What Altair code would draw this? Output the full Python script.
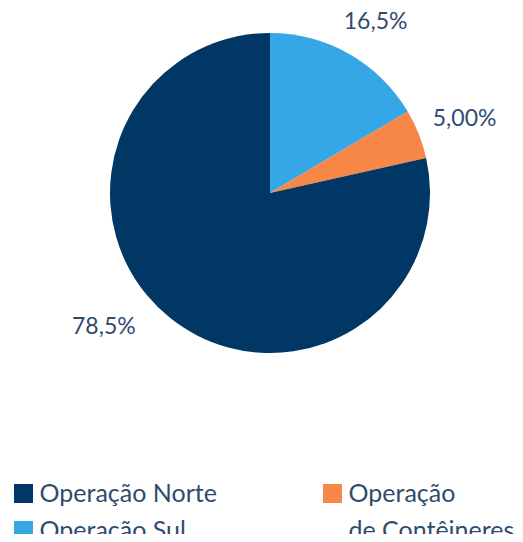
import altair as alt
import pandas as pd

# Pie data (drawn clockwise from 12 o'clock)
categories = ["Operação Sul", "Operação de Contêineres", "Operação Norte"]
values = [16.5, 5.0, 78.5]
value_labels = ["16,5%", "5,00%", "78,5%"]
colors = ["#35a7e7", "#f68746", "#003764"]

# Legend entries (row-wise, two columns)
legend_names = ["Operação Norte", "Operação de Contêineres", "Operação Sul"]
legend_texts = ["Operação Norte", "Operação\nde Contêineres", "Operação Sul"]

FONT = "Lato"
TEXT_COLOR = "#2f4c6e"
FS_LAB = 23
FS_LEG = 25
CX, CY = 262, 185

df = pd.DataFrame({
    "category": categories,
    "value": values,
    "label": value_labels,
    "idx": list(range(len(categories))),
})
leg = pd.DataFrame({
    "name": legend_names,
    "text": legend_texts,
    "idx": list(range(len(legend_names))),
})

color_scale = alt.Scale(domain=categories, range=colors)

pie = alt.Chart(df).mark_arc(radius=160, stroke=None).encode(
    theta=alt.Theta("value:Q", stack=True),
    order=alt.Order("idx:Q"),
    color=alt.Color("category:N", scale=color_scale, legend=None),
    x=alt.value(CX),
    y=alt.value(CY),
)

lab_base = alt.Chart(df).transform_window(
    cum="sum(value)", sort=[alt.SortField("idx")], frame=[None, 0]
).transform_calculate(
    mid="datum.cum - datum.value / 2"
).encode(
    theta=alt.Theta("mid:Q", scale=alt.Scale(domain=[0, 100])),
    text="label:N",
    x=alt.value(CX),
    y=alt.value(CY),
)

label_style = dict(radius=205, font=FONT, fontSize=FS_LAB, color=TEXT_COLOR,
                   align="center", baseline="middle")
lab0 = lab_base.transform_filter("datum.idx == 0").mark_text(dx=4, dy=7, **label_style)
lab1 = lab_base.transform_filter("datum.idx == 1").mark_text(dx=4, dy=1, **label_style)
lab2 = lab_base.transform_filter("datum.idx == 2").mark_text(dx=-38, dy=-26, **label_style)

leg_base = alt.Chart(leg).transform_calculate(
    col="datum.idx % 2", row="floor(datum.idx / 2)"
).encode(
    x=alt.X("col:Q", scale=alt.Scale(domain=[0, 1], range=[15.5, 324.5]), axis=None),
    y=alt.Y("row:Q", scale=alt.Scale(domain=[0, 1], range=[485.5, 522.5]), axis=None),
)
leg_sq = leg_base.mark_square(size=361, opacity=1).encode(
    color=alt.Color("name:N", scale=color_scale, legend=None)
)
leg_txt = leg_base.mark_text(
    align="left", baseline="top", dx=16, dy=-12, lineBreak="\n", lineHeight=37,
    font=FONT, fontSize=FS_LEG, color=TEXT_COLOR
).encode(text="text:N")

chart = alt.layer(pie, lab0, lab1, lab2, leg_sq, leg_txt).properties(
    width=507, height=526, padding=0, autosize=alt.AutoSizeParams(type="none")
).configure_view(stroke=None)

chart.save("out.html", embed_options={"renderer": "svg", "actions": False})
